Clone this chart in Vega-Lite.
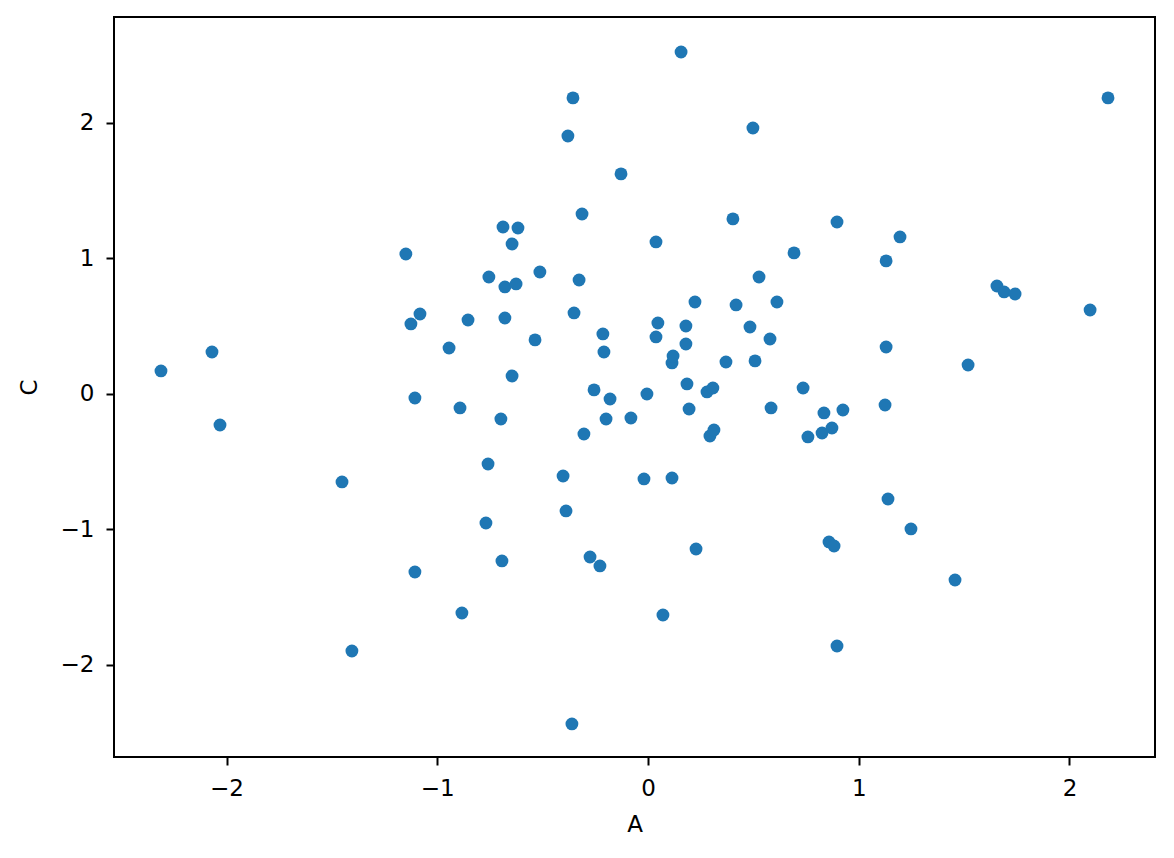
{
  "$schema": "https://vega.github.io/schema/vega-lite/v6.json",
  "width": 1041,
  "height": 740,
  "autosize": {"type": "none"},
  "padding": {"left": 114, "top": 17, "right": 19, "bottom": 101},
  "background": "white",
  "config": {
    "view": {"stroke": "black", "strokeWidth": 2}
  },
  "data": {
    "values": [
      {"A": -2.311, "C": 0.17},
      {"A": -2.069, "C": 0.31},
      {"A": -2.031, "C": -0.229},
      {"A": -1.452, "C": -0.649},
      {"A": -1.405, "C": -1.897},
      {"A": -1.149, "C": 1.033},
      {"A": -1.125, "C": 0.517},
      {"A": -1.082, "C": 0.59},
      {"A": -1.106, "C": -0.03},
      {"A": -1.106, "C": -1.314},
      {"A": -0.944, "C": 0.339},
      {"A": -0.892, "C": -0.103},
      {"A": -0.883, "C": -1.616},
      {"A": -0.854, "C": 0.546},
      {"A": -0.755, "C": 0.863},
      {"A": -0.759, "C": -0.517},
      {"A": -0.769, "C": -0.952},
      {"A": -0.698, "C": -0.185},
      {"A": -0.693, "C": -1.232},
      {"A": -0.688, "C": 1.232},
      {"A": -0.679, "C": 0.79},
      {"A": -0.679, "C": 0.561},
      {"A": -0.645, "C": 1.107},
      {"A": -0.617, "C": 1.225},
      {"A": -0.626, "C": 0.812},
      {"A": -0.645, "C": 0.133},
      {"A": -0.513, "C": 0.9},
      {"A": -0.536, "C": 0.399},
      {"A": -0.403, "C": -0.605},
      {"A": -0.389, "C": -0.863},
      {"A": -0.38, "C": 1.904},
      {"A": -0.356, "C": 2.185},
      {"A": -0.361, "C": -2.435},
      {"A": -0.351, "C": 0.598},
      {"A": -0.327, "C": 0.841},
      {"A": -0.313, "C": 1.328},
      {"A": -0.304, "C": -0.295},
      {"A": -0.275, "C": -1.203},
      {"A": -0.256, "C": 0.03},
      {"A": -0.228, "C": -1.269},
      {"A": -0.214, "C": 0.443},
      {"A": -0.209, "C": 0.31},
      {"A": -0.199, "C": -0.185},
      {"A": -0.18, "C": -0.037},
      {"A": -0.128, "C": 1.624},
      {"A": -0.081, "C": -0.177},
      {"A": -0.019, "C": -0.627},
      {"A": -0.005, "C": 0.0},
      {"A": 0.038, "C": 1.122},
      {"A": 0.038, "C": 0.421},
      {"A": 0.047, "C": 0.524},
      {"A": 0.071, "C": -1.631},
      {"A": 0.114, "C": 0.229},
      {"A": 0.119, "C": 0.28},
      {"A": 0.114, "C": -0.62},
      {"A": 0.157, "C": 2.524},
      {"A": 0.18, "C": 0.502},
      {"A": 0.18, "C": 0.369},
      {"A": 0.185, "C": 0.074},
      {"A": 0.195, "C": -0.111},
      {"A": 0.223, "C": 0.679},
      {"A": 0.228, "C": -1.144},
      {"A": 0.28, "C": 0.015},
      {"A": 0.294, "C": -0.31},
      {"A": 0.308, "C": 0.044},
      {"A": 0.313, "C": -0.266},
      {"A": 0.37, "C": 0.236},
      {"A": 0.403, "C": 1.292},
      {"A": 0.418, "C": 0.657},
      {"A": 0.484, "C": 0.494},
      {"A": 0.498, "C": 1.963},
      {"A": 0.508, "C": 0.244},
      {"A": 0.527, "C": 0.863},
      {"A": 0.579, "C": 0.406},
      {"A": 0.584, "C": -0.103},
      {"A": 0.612, "C": 0.679},
      {"A": 0.693, "C": 1.041},
      {"A": 0.736, "C": 0.044},
      {"A": 0.759, "C": -0.317},
      {"A": 0.826, "C": -0.288},
      {"A": 0.835, "C": -0.14},
      {"A": 0.859, "C": -1.092},
      {"A": 0.873, "C": -0.251},
      {"A": 0.883, "C": -1.122},
      {"A": 0.897, "C": 1.269},
      {"A": 0.897, "C": -1.86},
      {"A": 0.925, "C": -0.118},
      {"A": 1.125, "C": -0.081},
      {"A": 1.13, "C": 0.982},
      {"A": 1.13, "C": 0.347},
      {"A": 1.139, "C": -0.775},
      {"A": 1.196, "C": 1.159},
      {"A": 1.248, "C": -0.996},
      {"A": 1.457, "C": -1.373},
      {"A": 1.519, "C": 0.214},
      {"A": 1.656, "C": 0.797},
      {"A": 1.69, "C": 0.753},
      {"A": 1.742, "C": 0.738},
      {"A": 2.098, "C": 0.62},
      {"A": 2.183, "C": 2.185}
    ]
  },
  "mark": {"type": "point", "filled": true, "opacity": 1, "size": 165, "color": "#1f77b4"},
  "encoding": {
    "x": {
      "field": "A",
      "type": "quantitative",
      "scale": {"domain": [-2.534, 2.406], "nice": false, "zero": false},
      "axis": {
        "title": "A",
        "values": [-2, -1, 0, 1, 2],
        "labelExpr": "replace(format(datum.value, 'd'), '-', '\u2212')",
        "domain": false,
        "grid": false,
        "tickColor": "black",
        "tickWidth": 2,
        "tickSize": 8,
        "labelFont": "DejaVu Sans",
        "labelFontSize": 23,
        "labelColor": "black",
        "labelPadding": 12,
        "titleFont": "DejaVu Sans",
        "titleFontSize": 23,
        "titleFontWeight": "normal",
        "titleColor": "black",
        "titlePadding": 13
      }
    },
    "y": {
      "field": "C",
      "type": "quantitative",
      "scale": {"domain": [-2.679, 2.782], "nice": false, "zero": false},
      "axis": {
        "title": "C",
        "values": [-2, -1, 0, 1, 2],
        "labelExpr": "replace(format(datum.value, 'd'), '-', '\u2212')",
        "domain": false,
        "grid": false,
        "tickColor": "black",
        "tickWidth": 2,
        "tickSize": 8,
        "labelFont": "DejaVu Sans",
        "labelFontSize": 23,
        "labelColor": "black",
        "labelPadding": 12,
        "titleFont": "DejaVu Sans",
        "titleFontSize": 23,
        "titleFontWeight": "normal",
        "titleColor": "black",
        "titlePadding": 19
      }
    }
  }
}
